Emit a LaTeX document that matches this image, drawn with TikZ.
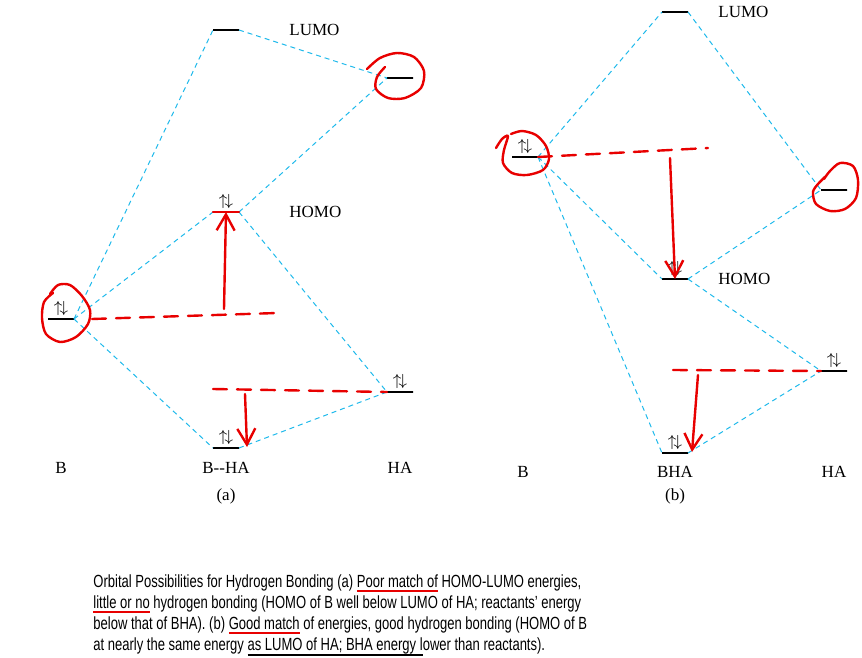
\documentclass[tikz,border=0pt]{standalone}
\usepackage{fontspec}
\setmainfont{Liberation Serif}
\newfontfamily\capfont[FakeStretch=0.74]{Liberation Sans}
\usepackage{tikz}
\usetikzlibrary{arrows.meta}
\usetikzlibrary{positioning}

\definecolor{mocyan}{RGB}{30,185,235}
\definecolor{penred}{RGB}{232,0,0}
\newsavebox\ulbox
\newcommand\redul[1]{\sbox\ulbox{#1}\rlap{\color{penred}\rule[-0.5ex]{\wd\ulbox}{1.1pt}}\usebox\ulbox}
\newcommand\blackul[1]{\sbox\ulbox{#1}\rlap{\rule[-0.65ex]{\wd\ulbox}{0.9pt}}\usebox\ulbox}

\begin{document}
\begin{tikzpicture}[x=0.5pt,y=-0.5pt,
	level/.style={draw,line width=1pt,minimum width=13pt,minimum height=0pt,inner sep=0pt,outer sep=0pt},
	spin/.style={label={[font=\fontsize{8.5}{8.5}\selectfont,inner sep=1.5pt]above:$\uparrow\!\downarrow$}},
	txt/.style={font=\fontsize{8.5}{10}\selectfont,inner sep=1pt},
	mo/.style={draw=mocyan,line width=0.5pt,dash pattern=on 2.5pt off 2pt},
	pen/.style={draw=penred,line width=1.2pt,line cap=round,line join=round},
	penline/.style={pen,dash pattern=on 7pt off 5pt},
	hand/.style={pen,-{Straight Barb[length=8pt,width=9pt,line width=1.2pt]}}]
	\useasboundingbox (0,0) rectangle (862,658);

	\node[level,spin] (aB) at (61,319) {};
	\node[level] (aL) at (226,30) {};
	\node[level,spin] (aH) at (226,212) {};
	\node[level,spin] (aBHA) at (226,448) {};
	\node[level] (aHAL) at (400,78) {};
	\node[level,spin] (aHA) at (400,392) {};

	\node[txt,right=24pt of aL] (aLt) {LUMO};
	\node[txt,right=24pt of aH] (aHt) {HOMO};
	\node[txt] (aBt) at (61,468) {B};
	\node[txt] (aBHAt) at (226,468) {B-{}-HA};
	\node[txt] (aHAt) at (400,468) {HA};
	\node[txt] (acap) at (226,496) {(a)};

	\draw[mo] (aB.east) -- (aL.west);
	\draw[mo] (aB.east) -- (aH.west);
	\draw[mo] (aB.east) -- (aBHA.west);
	\draw[mo] (aL.east) -- (aHAL.west);
	\draw[mo] (aH.east) -- (aHAL.west);
	\draw[mo] (aH.east) -- (aHA.west);
	\draw[mo] (aBHA.east) -- (aHA.west);

	\node[level,spin] (bB) at (525,157) {};
	\node[level] (bL) at (675,12) {};
	\node[level,spin] (bH) at (675,279) {};
	\node[level,spin] (bBHA) at (675,453) {};
	\node[level] (bHAL) at (834,190) {};
	\node[level,spin] (bHA) at (834,371) {};

	\node[txt,right=14pt of bL] (bLt) {LUMO};
	\node[txt,right=14pt of bH] (bHt) {HOMO};
	\node[txt] (bBt) at (523,472) {B};
	\node[txt] (bBHAt) at (675,472) {BHA};
	\node[txt] (bHAt) at (834,472) {HA};
	\node[txt] (bcap) at (675,496) {(b)};

	\draw[mo] (bB.east) -- (bL.west);
	\draw[mo] (bB.east) -- (bH.west);
	\draw[mo] (bB.east) -- (bBHA.west);
	\draw[mo] (bL.east) -- (bHAL.west);
	\draw[mo] (bH.east) -- (bHAL.west);
	\draw[mo] (bH.east) -- (bHA.west);
	\draw[mo] (bBHA.east) -- (bHA.west);

	\draw[pen] plot[smooth] coordinates {(367,69) (380,58) (397,53) (414,57) (424,71) (421,88) (405,98) (388,98) (376,89) (377,77) (385,67)};
	\draw[pen] plot[smooth] coordinates {(50,294) (58,285) (70,285) (82,296) (90,310) (88,324) (76,337) (60,342) (46,334) (42,318) (44,302) (53,293)};
	\draw[pen] (aH.west) -- (aH.east);
	\coordinate (aUp) at (224,309);
	\draw[hand] (aUp) -- (aH.south);
	\coordinate (aRa) at (92,319);
	\coordinate (aRb) at (277,313);
	\draw[penline] (aRa) -- (aRb);
	\coordinate (aRc) at (213,389);
	\draw[penline] (aRc) -- (aHA.west);
	\coordinate (aDn) at (245,394);
	\draw[hand] (aDn) -- (247,447);

	\draw[pen] plot[smooth] coordinates {(496,148) (502,139) (508,136) (504,150) (503,163) (512,173) (527,175) (543,170) (549,159) (546,146) (536,135) (522,131) (511,134)};
	\draw[pen] plot[smooth] coordinates {(824,179) (830,171) (840,163) (853,166) (858,180) (856,198) (845,209) (830,211) (816,204) (813,192) (818,184) (826,176)};
	\coordinate (bRa) at (708,148);
	\draw[penline] (bB.east) -- (bRa);
	\coordinate (bUp) at (670,158);
	\draw[hand] (bUp) -- (bH.north);
	\coordinate (bRc) at (673,370);
	\draw[penline] (bRc) -- (bHA.west);
	\coordinate (bDn) at (698,375);
	\draw[hand] (bDn) -- (692,452);

	\node[anchor=north west,inner sep=0pt,align=left,font=\capfont\fontsize{8.8}{10.5}\selectfont] (caption) at (93,574)
		{Orbital Possibilities for Hydrogen Bonding (a) \redul{Poor match of} HOMO-LUMO energies,\\
		\redul{little or no} hydrogen bonding (HOMO of B well below LUMO of HA; reactants’ energy\\
		below that of BHA). (b) \redul{Good match} of energies, good hydrogen bonding (HOMO of B\\
		at nearly the same energy \blackul{as LUMO of HA; BHA energy l}ower than reactants).};
\end{tikzpicture}
\end{document}
